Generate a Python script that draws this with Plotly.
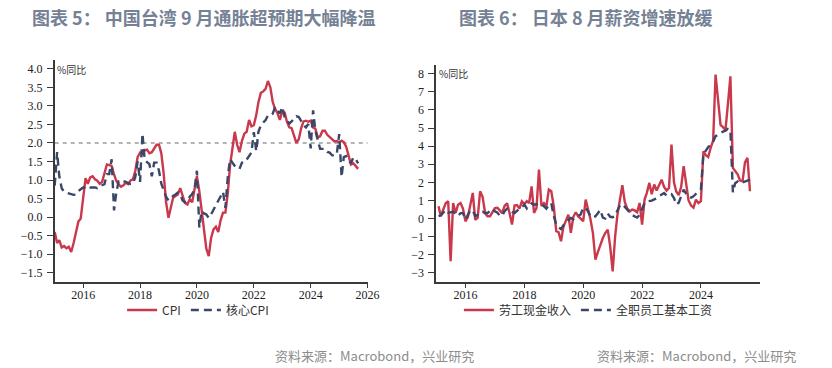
import pandas as pd
import plotly.graph_objects as go

# ---------------- data ----------------
# Left: Taiwan CPI yoy (%), monthly Jan-2015 .. Sep-2025
tw_dates = pd.date_range("2015-01-01", periods=129, freq="MS")
tw_cpi = [
    -0.40, -0.70, -0.62, -0.82, -0.78, -0.84, -0.80, -0.94, -0.70, -0.45, -0.12, -0.04,
    0.55, 1.05, 0.90, 1.07, 1.10, 1.02, 0.98, 0.90, 0.95, 1.15, 1.42, 1.40,
    1.38, 1.15, 0.98, 0.88, 0.82, 0.86, 0.93, 0.89, 0.99, 1.02, 1.25, 1.62,
    1.74, 1.70, 1.80, 1.82, 1.72, 1.75, 1.86, 1.95, 1.95, 1.72, 1.16, 0.40,
    -0.02, 0.32, 0.52, 0.57, 0.61, 0.78, 0.57, 0.38, 0.34, 0.48, 0.40, 0.80,
    1.10, 0.70, 0.18, -0.25, -0.85, -1.05, -0.56, -0.33, -0.26, -0.40, -0.08, 0.12,
    0.12, 0.65, 1.38, 1.85, 2.30, 1.95, 1.75, 2.05, 2.25, 2.30, 2.62, 2.45,
    2.48, 2.75, 3.10, 3.35, 3.39, 3.46, 3.67, 3.50, 3.10, 2.92, 2.80, 2.62,
    2.85, 2.82, 2.58, 2.42, 2.40, 2.20, 2.00, 2.10, 2.40, 2.58, 2.60, 2.57,
    2.60, 2.42, 2.38, 2.15, 2.18, 2.33, 2.33, 2.22, 2.15, 2.10, 2.04, 2.05,
    2.02, 2.06, 2.02, 1.90, 1.62, 1.42, 1.45, 1.38, 1.30,
]
tw_core = [
    0.85, 1.75, 1.10, 0.78, 0.68, 0.66, 0.64, 0.61, 0.60, 0.61, 0.70, 0.75,
    0.80, 0.80, 0.84, 0.80, 0.81, 0.80, 0.78, 0.84, 0.86, 0.89, 1.16, 1.16,
    1.56, 0.18, 0.65, 0.96, 0.93, 0.97, 0.95, 0.92, 0.89, 0.90, 1.08, 1.50,
    0.95, 2.25, 1.55, 1.48, 1.43, 1.10, 1.47, 1.47, 1.25, 0.90, 0.70, 0.55,
    0.45, 0.52, 0.57, 0.61, 0.66, 0.61, 0.45, 0.40, 0.42, 0.55, 0.62, 0.75,
    1.25, -0.28, 0.16, 0.10, 0.07, -0.02, 0.07, 0.20, 0.33, 0.45, 0.55, 0.68,
    0.25, 1.10, 1.56, 1.45, 1.38, 1.32, 1.30, 1.47, 1.47, 1.55, 1.65, 1.74,
    2.29, 1.78, 2.30, 2.48, 2.55, 2.62, 2.74, 2.74, 2.79, 2.97, 2.88, 2.79,
    2.97, 2.70, 2.61, 2.52, 2.58, 2.66, 2.72, 2.70, 2.60, 2.48, 2.42, 2.51,
    1.85, 2.88, 2.33, 2.11, 1.84, 1.84, 1.84, 1.76, 1.74, 1.67, 1.65, 1.70,
    2.24, 1.08, 1.62, 1.65, 1.55, 1.45, 1.61, 1.56, 1.45,
]
tw_target = 2.0

# Right: Japan wages yoy (%), monthly Jan-2015 .. Aug-2025
jp_dates = pd.date_range("2015-01-31", periods=128, freq="ME")
jp_cash = [
    0.68, 0.13, 0.50, 0.85, 0.96, -2.35, 0.86, 0.31, 0.77, 0.86, 0.55, -0.15,
    0.10, 0.68, 1.42, -0.06, 0.04, 1.51, 1.20, 0.30, 0.13, 0.13, 0.35, 0.58,
    0.60, 0.45, 0.30, 0.70, 0.85, 0.31, -0.33, 0.72, 0.75, 0.55, 0.95, 0.80,
    0.96, 0.86, 1.78, 0.31, 0.59, 2.70, 0.70, 0.85, 0.68, 1.60, 1.51, 0.68,
    -0.70, -0.75, -1.25, -0.45, -0.15, 0.22, -0.79, 0.10, 0.35, 0.12, 0.00, -0.15,
    1.05, 0.55, -0.05, -0.80, -2.26, -1.85, -1.45, -1.07, -0.80, -0.61, -1.53, -2.91,
    -0.97, 0.20, 1.05, 1.85, 0.90, 0.55, 0.40, 0.50, 0.45, 0.35, 0.86, -0.33,
    1.05, 1.42, 1.97, 1.35, 1.88, 1.55, 1.85, 2.15, 1.75, 1.55, 1.69, 4.08,
    2.00, 1.50, 1.30, 1.75, 2.89, 1.97, 1.00, 0.72, 0.60, 1.05, 0.86, 0.96,
    3.72, 3.50, 3.40, 3.90, 4.30, 7.95, 6.50, 5.17, 5.05, 4.90, 6.30, 7.85,
    2.80, 2.61, 2.45, 2.10, 2.06, 3.10, 3.35, 1.51,
]
jp_base = [
    0.13, 0.18, 0.33, 0.48, 0.33, 0.37, 0.37, 0.29, 0.15, 0.30, 0.30, -0.05,
    0.18, 0.45, 0.45, 0.14, 0.20, 0.32, 0.37, 0.31, 0.31, 0.45, 0.53, 0.40,
    0.33, 0.16, 0.15, 0.41, 0.55, 0.50, 0.37, 0.31, 0.45, 0.55, 0.64, 0.77,
    0.56, 0.68, 0.84, 0.77, 0.77, 0.81, 0.82, 0.68, 0.55, 0.75, 0.85, 0.15,
    -0.33, -0.48, -0.58, -0.37, -0.21, -0.09, 0.03, -0.04, 0.05, 0.16, 0.23, 0.59,
    0.58, 0.40, 0.13, 0.06, 0.13, 0.30, 0.48, 0.05, 0.00, 0.28, 0.10, 0.08,
    0.14, 0.45, 0.72, 0.80, 0.66, 0.52, 0.33, 0.19, 0.12, 0.06, 0.20, 0.50,
    0.87, 0.95, 0.96, 0.99, 1.06, 1.12, 1.24, 1.35, 1.41, 1.27, 1.33, 1.35,
    1.13, 0.78, 0.88, 1.20, 1.60, 1.38, 1.22, 1.16, 1.23, 1.37, 1.51, 1.62,
    3.55, 3.75, 3.95, 4.08, 4.25, 4.55, 4.65, 4.72, 4.80, 4.85, 4.95, 4.90,
    1.45, 1.95, 2.05, 1.95, 2.00, 2.05, 2.10, 2.15,
]

left_xticks = ["2016-01-01", "2018-01-01", "2020-01-01", "2022-01-01", "2024-01-01", "2026-01-01"]
left_xtext = ["2016", "2018", "2020", "2022", "2024", "2026"]
right_xticks = ["2016-01-01", "2018-01-01", "2020-01-01", "2022-01-01", "2024-01-01"]
right_xtext = ["2016", "2018", "2020", "2022", "2024"]
left_yticks = [4.0, 3.5, 3.0, 2.5, 2.0, 1.5, 1.0, 0.5, 0.0, -0.5, -1.0, -1.5]
right_yticks = [8, 7, 6, 5, 4, 3, 2, 1, 0, -1, -2, -3]

title_left = "图表 5： 中国台湾 9 月通胀超预期大幅降温"
title_right = "图表 6： 日本 8 月薪资增速放缓"
source_text = "资料来源：Macrobond，兴业研究"
unit_text = "%同比"

# ---------------- style ----------------
W, H = 832, 368
RED = "#c9384b"
NAVY = "#3b4769"
AXIS = "#3a3a3a"
SERIF = "Liberation Serif, Times New Roman, serif"
CJK = "Noto Sans CJK SC, sans-serif"


def px(x):
    return x / W


def py(y):
    return 1 - y / H


fig = go.Figure()

fig.add_trace(go.Scatter(x=tw_dates, y=tw_cpi, mode="lines", name="CPI",
                         line=dict(color=RED, width=2.4), xaxis="x", yaxis="y",
                         legend="legend"))
fig.add_trace(go.Scatter(x=tw_dates, y=tw_core, mode="lines", name="核心CPI",
                         line=dict(color=NAVY, width=2.4, dash="8px,5px"),
                         xaxis="x", yaxis="y", legend="legend"))
fig.add_trace(go.Scatter(x=jp_dates, y=jp_cash, mode="lines", name="劳工现金收入",
                         line=dict(color=RED, width=2.4), xaxis="x2", yaxis="y2",
                         legend="legend2"))
fig.add_trace(go.Scatter(x=jp_dates, y=jp_base, mode="lines", name="全职员工基本工资",
                         line=dict(color=NAVY, width=2.4, dash="8px,5px"),
                         xaxis="x2", yaxis="y2", legend="legend2"))

axis_common = dict(showgrid=False, zeroline=False, showline=True, linecolor=AXIS,
                   linewidth=1.5, ticks="outside", tickcolor=AXIS, tickwidth=1.2,
                   tickfont=dict(family=SERIF, size=12, color="#222222"))
xaxis_extra = dict(ticklen=4, ticklabelstandoff=-3)
yaxis_extra = dict(ticklen=6, ticklabelstandoff=2)

fig.update_layout(
    width=W, height=H,
    margin=dict(l=0, r=0, t=0, b=0),
    paper_bgcolor="white", plot_bgcolor="white",
    xaxis=dict(domain=[px(55.5), px(373)], range=["2015-01-01", "2026-01-01"],
               tickvals=left_xticks, ticktext=left_xtext,
               anchor="y", **axis_common, **xaxis_extra),
    yaxis=dict(domain=[py(282), py(59.5)], range=[-1.75, 4.25],
               tickvals=left_yticks, tickformat=".1f",
               anchor="x", **axis_common, **yaxis_extra),
    xaxis2=dict(domain=[px(442.5), px(771)], range=["2015-01-01", "2026-01-01"],
                tickvals=right_xticks, ticktext=right_xtext,
                anchor="y2", **axis_common, **xaxis_extra),
    yaxis2=dict(domain=[py(282), py(64.6)], range=[-3.5, 8.5],
                tickvals=right_yticks,
                anchor="x2", **axis_common, **yaxis_extra),
    legend=dict(orientation="h", x=px(201), y=py(310), xanchor="center", yanchor="middle",
                font=dict(family=CJK, size=12, color="#333333"), itemwidth=30,
                bgcolor="rgba(0,0,0,0)", tracegroupgap=0),
    legend2=dict(orientation="h", x=px(597), y=py(310), xanchor="center", yanchor="middle",
                 font=dict(family=CJK, size=12, color="#333333"), itemwidth=30,
                 bgcolor="rgba(0,0,0,0)", tracegroupgap=0),
    showlegend=True,
)

fig.add_shape(type="line", xref="x domain", yref="y", x0=0, x1=1,
              y0=tw_target, y1=tw_target,
              line=dict(color="#9a9a9a", width=1.5, dash="4px,4px"), layer="below")

annotations = [
    dict(text=title_left, x=px(30), y=py(17), xanchor="left", yanchor="middle",
         font=dict(family=CJK, size=18, color="#758194", weight="bold")),
    dict(text=title_right, x=px(464), y=py(17), xanchor="left", yanchor="middle",
         font=dict(family=CJK, size=18, color="#758194", weight="bold")),
    dict(text=unit_text, x=px(56), y=py(69), xanchor="left", yanchor="middle",
         font=dict(family=CJK, size=10, color="#333333")),
    dict(text=unit_text, x=px(443), y=py(73), xanchor="left", yanchor="middle",
         font=dict(family=CJK, size=10, color="#333333")),
    dict(text=source_text, x=px(483), y=py(355), xanchor="right", yanchor="middle",
         font=dict(family=CJK, size=13, color="#8c8c8c")),
    dict(text=source_text, x=px(810), y=py(355), xanchor="right", yanchor="middle",
         font=dict(family=CJK, size=13, color="#8c8c8c")),
]
for a in annotations:
    fig.add_annotation(xref="paper", yref="paper", showarrow=False, **a)

# remove the browser's default 8px body margin so the figure sits at the page origin
fig.write_html("out.html", config={"displayModeBar": False},
               post_script="document.body.style.margin='0px';")
